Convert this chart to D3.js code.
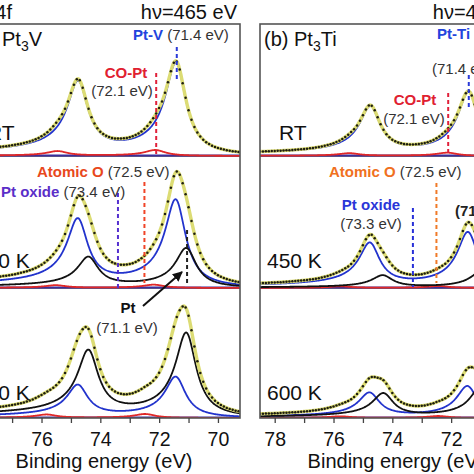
<!DOCTYPE html>
<html><head><meta charset="utf-8">
<script src="https://cdn.jsdelivr.net/npm/d3@7"></script>
<style>
body{margin:0;background:#fff}
svg{display:block;font-family:"Liberation Sans",Arial,Helvetica,sans-serif}
</style>
</head><body>
<svg id="c" width="474" height="474"></svg>
<script>
// ---------------- data ----------------
const energyDomain = [78.5, 69.25];
const tickEnergies = [78, 77, 76, 75, 74, 73, 72, 71, 70];
const tickLabels = ["78", "", "76", "", "74", "", "72", "", "70"];
const panelTags = ["(a) ", "(b) "];
const alloyNames = [["Pt", "3", "V"], ["Pt", "3", "Ti"]];
const conditions = ["RT", "450 K", "600 K"];
const headerTitle = "Pt 4f";
const photonEnergy = "hν=465 eV";
const axisTitle = "Binding energy (eV)";

// fitted components: [subpanel, kind, BE 4f7/2, height 4f7/2, BE 4f5/2, height 4f5/2]
const pt3vPeaks = [
  [0, "CO", 72.10, 0.045, 75.43, 0.035],
  [0, "alloy", 71.40, 0.700, 74.73, 0.530],
  [1, "CO", 72.15, 0.025, 75.48, 0.020],
  [1, "alloy", 71.41, 0.665, 74.74, 0.490],
  [1, "Pt", 71.05, 0.300, 74.38, 0.220],
  [2, "O", 72.45, 0.030, 75.80, 0.025],
  [2, "alloy", 71.41, 0.310, 74.74, 0.235],
  [2, "Pt", 71.05, 0.640, 74.38, 0.480]
];
const pt3tiPeaks = [
  [0, "CO", 72.10, 0.025, 75.43, 0.020],
  [0, "alloy", 71.38, 0.480, 74.72, 0.350],
  [1, "O", 72.40, 0.015, 75.73, 0.012],
  [1, "alloy", 71.40, 0.420, 74.74, 0.320],
  [1, "Pt", 70.97, 0.120, 74.30, 0.090],
  [2, "O", 72.40, 0.015, 75.73, 0.012],
  [2, "alloy", 71.42, 0.240, 74.75, 0.180],
  [2, "Pt", 70.95, 0.240, 74.28, 0.175]
];
// dashed reference markers: [subpanel, kind, BE]
const pt3vMarkers = [[0, "alloy", 71.4], [0, "CO", 72.1], [1, "O", 72.5], [1, "oxide", 73.4], [1, "Pt", 71.05]];
const pt3tiMarkers = [[0, "alloy", 71.4], [0, "CO", 72.1], [1, "O", 72.5], [1, "oxide", 73.3]];
// peak labels: [kind, name, value]
const pt3vLabels = [["alloy", "Pt-V", "(71.4 eV)"], ["CO", "CO-Pt", "(72.1 eV)"], ["O", "Atomic O", "(72.5 eV)"], ["oxide", "Pt oxide", "(73.4 eV)"], ["Pt", "Pt", "(71.1 eV)"]];
const pt3tiLabels = [["alloy", "Pt-Ti", "(71.4 eV)"], ["CO", "CO-Pt", "(72.1 eV)"], ["O", "Atomic O", "(72.5 eV)"], ["oxide", "Pt oxide", "(73.3 eV)"], ["Pt", "", "(71.1 eV)"]];

// ---------------- layout & style ----------------
const svg = d3.select("#c");
const panelX = [[-32, 240], [260, 532]];
const frameTop = 24, subH = 132, baselines = [156, 288, 418];
const compColor = {alloy: "#2233cc", Pt: "#111111", CO: "#e02828", O: "#e02828"};
const markerColor = [
  {alloy: "#2a3ad8", CO: "#e0203a", O: "#f04428", oxide: "#5530d0", Pt: "#222"},
  {alloy: "#2a3ad8", CO: "#e0203a", O: "#f07a28", oxide: "#2830d8", Pt: "#222"}
];
const nameColor = [
  {alloy: "#2244dd", CO: "#e02030", O: "#e8481c", oxide: "#5a2ec8", Pt: "#111"},
  {alloy: "#2244dd", CO: "#e02030", O: "#f07020", oxide: "#2a36d8", Pt: "#111"}
];
const markerY = [
  {alloy: [47, 82], CO: [73, 156], O: [182, 283], oxide: [193, 288], Pt: [230, 284]},
  {alloy: [75, 108], CO: [93, 156], O: [183, 283], oxide: [208, 287]}
];
const labelLayout = [
  {alloy: {mode: "inline", x: 133, y: 40},
   CO: {mode: "stack", x1: 126, y1: 78, x2: 122, y2: 96, anchor: "middle"},
   O: {mode: "inline", x: 37, y: 177},
   oxide: {mode: "inline", x: 1, y: 197},
   Pt: {mode: "stack", x1: 128, y1: 313, x2: 127, y2: 333, anchor: "middle"}},
  {alloy: {mode: "stack", x1: 437, y1: 39, x2: 432, y2: 74, anchor: "start"},
   CO: {mode: "stack", x1: 415, y1: 105, x2: 414, y2: 124, anchor: "middle"},
   O: {mode: "inline", x: 329, y: 177},
   oxide: {mode: "stack", x1: 371, y1: 210, x2: 371, y2: 229, anchor: "middle"},
   Pt: {mode: "boldvalue", x: 455, y: 216}}
];

// Doniach-Sunjic line shape (tail toward higher BE), normalised to 1
const dsAlpha = 0.1, dsGamma = 0.4;
function dsRaw(d) {
  return Math.cos(Math.PI * dsAlpha / 2 + (1 - dsAlpha) * Math.atan(d / dsGamma)) /
         Math.pow(dsGamma * dsGamma + d * d, (1 - dsAlpha) / 2);
}
const dsMax = d3.max(d3.range(-1, 1, 0.001), dsRaw);
function shape(E, E0) { return dsRaw(E0 - E) / dsMax; }

const defs = svg.append("defs");
defs.append("marker").attr("id", "arr").attr("viewBox", "0 0 10 10").attr("refX", 9).attr("refY", 5)
  .attr("markerWidth", 5).attr("markerHeight", 5).attr("orient", "auto")
  .append("path").attr("d", "M0,0 L10,5 L0,10 z").attr("fill", "#111");

const allPeaks = [pt3vPeaks, pt3tiPeaks];
const allMarkers = [pt3vMarkers, pt3tiMarkers];
const allLabels = [pt3vLabels, pt3tiLabels];
const grid = d3.range(78.7, 69.1, -0.02);
const dotE = d3.range(78.5, 69.2, -0.1);

panelX.forEach((rng, p) => {
  const x = d3.scaleLinear().domain(energyDomain).range(rng);
  const g = svg.append("g");
  defs.append("clipPath").attr("id", "clip" + p).append("rect")
    .attr("x", rng[0]).attr("y", frameTop).attr("width", rng[1] - rng[0]).attr("height", baselines[2] - frameTop);
  const plot = g.append("g").attr("clip-path", `url(#clip${p})`);

  baselines.forEach(b => plot.append("line").attr("x1", rng[0]).attr("x2", rng[1]).attr("y1", b).attr("y2", b)
    .attr("stroke", "#777").attr("stroke-width", 2));

  conditions.forEach((cond, s) => {
    const y = d3.scaleLinear().domain([0, 1]).range([baselines[s], baselines[s] - subH]);
    const peaks = allPeaks[p].filter(d => d[0] === s);
    const compVal = (pk, E) => pk[3] * shape(E, pk[2]) + pk[5] * shape(E, pk[4]);
    const env = E => d3.sum(peaks, pk => compVal(pk, E));
    const line = d3.line().x(d => x(d[0])).y(d => y(d[1]));
    plot.append("line").attr("x1", rng[0]).attr("x2", rng[1]).attr("y1", y(0) - 0.5).attr("y2", y(0) - 0.5)
      .attr("stroke", "#3b2e9e").attr("stroke-width", 2);
    ["CO", "O", "alloy", "Pt"].forEach(kind => {
      peaks.filter(pk => pk[1] === kind).forEach(pk => {
        plot.append("path").attr("d", line(grid.map(E => [E, compVal(pk, E)])))
          .attr("fill", "none").attr("stroke", compColor[kind]).attr("stroke-width", 1.8);
      });
    });
    plot.append("path").attr("d", line(grid.map(E => [E, env(E)])))
      .attr("fill", "none").attr("stroke", "#dcdc74").attr("stroke-width", 3.4);
    plot.selectAll(null).data(dotE).enter().append("circle")
      .attr("cx", E => x(E)).attr("cy", E => y(env(E))).attr("r", 1.25).attr("fill", "#1d1d10");
  });

  allMarkers[p].forEach(([s, kind, E]) => {
    const yy = markerY[p][kind];
    g.append("line").attr("x1", x(E)).attr("x2", x(E)).attr("y1", yy[0]).attr("y2", yy[1])
      .attr("stroke", markerColor[p][kind]).attr("stroke-width", 2).attr("stroke-dasharray", "4,3");
  });

  g.append("rect").attr("x", rng[0]).attr("y", frameTop).attr("width", rng[1] - rng[0])
    .attr("height", baselines[2] - frameTop).attr("fill", "none").attr("stroke", "#555").attr("stroke-width", 1.6);

  const ax = g.append("g").attr("transform", `translate(0,${baselines[2]})`)
    .call(d3.axisBottom(x).tickValues(tickEnergies).tickFormat((d, i) => tickLabels[i]).tickSize(5).tickPadding(9));
  ax.select(".domain").remove();
  ax.selectAll(".tick line").attr("stroke", "#444").attr("stroke-width", 1.3);
  ax.selectAll(".tick text").attr("font-size", 19.5).attr("fill", "#111")
    .attr("font-family", '"Liberation Sans",Arial,sans-serif');
  g.append("text").attr("x", (rng[0] + rng[1]) / 2).attr("y", 468).attr("text-anchor", "middle")
    .attr("font-size", 20).attr("fill", "#111").text(axisTitle);

  g.append("text").attr("x", rng[1] - 3).attr("y", 19).attr("text-anchor", "end")
    .attr("font-size", 20).attr("fill", "#111").text(photonEnergy);
  if (p === 0) g.append("text").attr("x", 12).attr("y", 19).attr("text-anchor", "end")
    .attr("font-size", 20).attr("fill", "#111").text(headerTitle);

  const t = g.append("text").attr("x", rng[0] + 4).attr("y", 46).attr("font-size", 20).attr("fill", "#111");
  t.append("tspan").text(panelTags[p] + alloyNames[p][0]);
  t.append("tspan").attr("font-size", 14).attr("dy", 5).text(alloyNames[p][1]);
  t.append("tspan").attr("dy", -5).text(alloyNames[p][2]);

  const condPos = [[19, 140], [7, 268], [7, 400]];
  conditions.forEach((c, s) => g.append("text").attr("x", rng[0] + condPos[s][0]).attr("y", condPos[s][1])
    .attr("font-size", 21).attr("fill", "#111").text(c));

  allLabels[p].forEach(([kind, name, val]) => {
    const L = labelLayout[p][kind];
    if (L.mode === "inline") {
      const tx = g.append("text").attr("x", L.x).attr("y", L.y).attr("font-size", 15);
      tx.append("tspan").attr("font-weight", "bold").attr("fill", nameColor[p][kind]).text(name);
      tx.append("tspan").attr("fill", "#333").text(" " + val);
    } else if (L.mode === "stack") {
      g.append("text").attr("x", L.x1).attr("y", L.y1).attr("font-size", 15).attr("text-anchor", L.anchor)
        .attr("font-weight", "bold").attr("fill", nameColor[p][kind]).text(name);
      g.append("text").attr("x", L.x2).attr("y", L.y2).attr("font-size", 15).attr("text-anchor", L.anchor)
        .attr("fill", "#333").text(val);
    } else {
      g.append("text").attr("x", L.x).attr("y", L.y).attr("font-size", 15).attr("font-weight", "bold")
        .attr("fill", "#222").text(val);
    }
  });
  if (p === 0) {
    g.append("line").attr("x1", 143).attr("y1", 306).attr("x2", 182).attr("y2", 272)
      .attr("stroke", "#111").attr("stroke-width", 2).attr("marker-end", "url(#arr)");
  }
});
</script>
</body></html>
